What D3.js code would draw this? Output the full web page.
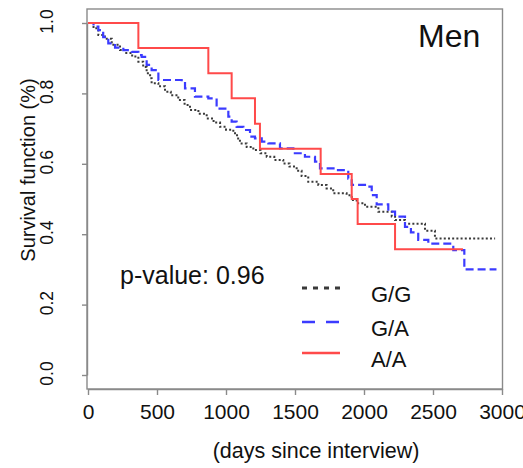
<!DOCTYPE html>
<html>
<head>
<meta charset="utf-8">
<script src="https://cdn.jsdelivr.net/npm/d3@7"></script>
<style>
  html, body { margin: 0; padding: 0; background: #fff; }
  svg { display: block; }
  text { font-family: "Liberation Sans", Arial, Helvetica, sans-serif; fill: #111; }
</style>
</head>
<body>
<svg id="chart" width="523" height="468"></svg>
<script>
// ---------- data ----------
const genotypes = ["G/G", "G/A", "A/A"];
const xTicks = [0, 500, 1000, 1500, 2000, 2500, 3000];
const yTicks = [0, 0.2, 0.4, 0.6, 0.8, 1.0];

const ggTime = [0, 40, 75, 123, 172, 232, 268, 320, 365, 400, 425, 450, 461, 510, 558, 600, 654, 700, 739, 800, 860, 910, 957, 1000, 1053, 1080, 1101, 1150, 1198, 1250, 1295, 1350, 1415, 1460, 1512, 1548, 1596, 1669, 1729, 1777, 1874, 1911, 1947, 2007, 2104, 2201, 2225, 2297, 2442, 2514, 2950];
const ggSurv = [1.0, 0.985, 0.966, 0.955, 0.938, 0.923, 0.915, 0.905, 0.89, 0.875, 0.857, 0.843, 0.829, 0.82, 0.805, 0.795, 0.781, 0.767, 0.753, 0.742, 0.729, 0.717, 0.705, 0.697, 0.687, 0.672, 0.658, 0.648, 0.639, 0.630, 0.620, 0.611, 0.601, 0.592, 0.580, 0.565, 0.549, 0.540, 0.530, 0.516, 0.511, 0.497, 0.488, 0.478, 0.464, 0.450, 0.440, 0.430, 0.410, 0.388, 0.388];

const gaTime = [0, 40, 75, 110, 147, 196, 256, 317, 365, 389, 425, 461, 510, 679, 703, 775, 872, 932, 1017, 1041, 1077, 1126, 1174, 1210, 1259, 1307, 1391, 1488, 1572, 1645, 1681, 1802, 1886, 1911, 2007, 2056, 2092, 2176, 2225, 2297, 2340, 2393, 2466, 2647, 2727, 2960];
const gaSurv = [1.0, 0.99, 0.98, 0.96, 0.942, 0.93, 0.923, 0.918, 0.909, 0.904, 0.881, 0.866, 0.838, 0.834, 0.814, 0.791, 0.786, 0.757, 0.734, 0.720, 0.705, 0.696, 0.677, 0.672, 0.663, 0.658, 0.644, 0.630, 0.620, 0.606, 0.587, 0.582, 0.558, 0.540, 0.535, 0.511, 0.485, 0.464, 0.450, 0.421, 0.405, 0.384, 0.373, 0.355, 0.300, 0.300];

const aaTime = [0, 365, 872, 1041, 1210, 1246, 1686, 1911, 1954, 2225, 2717];
const aaSurv = [1.0, 0.929, 0.857, 0.786, 0.714, 0.643, 0.571, 0.500, 0.429, 0.357, 0.357];

const pLabel = "p-value: 0.96";
const panelTitle = "Men";
const xTitle = "(days since interview)";
const yTitle = "Survival function (%)";

// ---------- drawing ----------
const svg = d3.select("#chart");
const x = d3.scaleLinear().domain([0, 3000]).range([88, 502]);
const y = d3.scaleLinear().domain([0, 1]).range([375, 23]);

const boxColor = "#8a8a8a";

// frame
svg.append("rect")
  .attr("x", 87).attr("y", 9)
  .attr("width", 502.5 - 87).attr("height", 389 - 9)
  .attr("fill", "none").attr("stroke", boxColor).attr("stroke-width", 1.4);

// y axis
const yAxis = svg.append("g").attr("transform", "translate(87,0)")
  .call(d3.axisLeft(y).tickValues(yTicks).tickSize(5).tickSizeOuter(0).tickFormat(d3.format(".1f")));
yAxis.select(".domain").attr("stroke", boxColor).attr("stroke-width", 1.4);
yAxis.selectAll(".tick line").attr("stroke", boxColor).attr("stroke-width", 1.4);
yAxis.selectAll(".tick text")
  .attr("x", null).attr("dy", null)
  .attr("transform", "translate(-34,-2) rotate(-90)")
  .attr("text-anchor", "middle")
  .style("font-size", "17.5px")
  .style("font-family", "Liberation Sans, Arial, sans-serif")
  .attr("fill", "#111");

// x axis
const xAxis = svg.append("g").attr("transform", "translate(0,389)")
  .call(d3.axisBottom(x).tickValues(xTicks).tickSize(6).tickSizeOuter(0).tickFormat(d3.format("d")));
xAxis.select(".domain").attr("stroke", boxColor).attr("stroke-width", 1.4);
xAxis.selectAll(".tick line").attr("stroke", boxColor).attr("stroke-width", 1.4);
xAxis.selectAll(".tick text")
  .attr("y", 30).attr("dy", null)
  .style("font-size", "21px")
  .style("font-family", "Liberation Sans, Arial, sans-serif")
  .attr("fill", "#111");

// axis titles
svg.append("text")
  .attr("transform", "translate(35,170) rotate(-90)")
  .attr("text-anchor", "middle")
  .style("font-size", "20px")
  .text(yTitle);
svg.append("text")
  .attr("x", 316).attr("y", 458)
  .attr("text-anchor", "middle")
  .style("font-size", "21.5px")
  .text(xTitle);

// curves
const line = d3.line().x(d => x(d[0])).y(d => y(d[1])).curve(d3.curveStepAfter);
const series = [
  { name: genotypes[0], pts: d3.zip(ggTime, ggSurv), color: "#3a3a3a", dash: "2,2.2", width: 2, legendDash: "5,6" },
  { name: genotypes[1], pts: d3.zip(gaTime, gaSurv), color: "#3b3bff", dash: "8,4", width: 2.2, legendDash: "13,11" },
  { name: genotypes[2], pts: d3.zip(aaTime, aaSurv), color: "#ff4a4a", dash: null, width: 2, legendDash: null }
];
series.forEach(s => {
  svg.append("path")
    .attr("d", line(s.pts))
    .attr("fill", "none")
    .attr("stroke", s.color)
    .attr("stroke-width", s.width)
    .attr("stroke-dasharray", s.dash);
});

// legend
const legY = [288, 322, 353];
series.forEach((s, i) => {
  svg.append("line")
    .attr("x1", 302).attr("x2", 340)
    .attr("y1", legY[i]).attr("y2", legY[i])
    .attr("stroke", s.color)
    .attr("stroke-width", i === 0 ? 3 : 2.5)
    .attr("stroke-dasharray", s.legendDash);
  svg.append("text")
    .attr("x", 371).attr("y", legY[i] + 14)
    .style("font-size", "22px")
    .text(s.name);
});

// annotations
svg.append("text").attr("x", 120).attr("y", 284).style("font-size", "25px").text(pLabel);
svg.append("text").attr("x", 418).attr("y", 47).style("font-size", "32px").text(panelTitle);
</script>
</body>
</html>
